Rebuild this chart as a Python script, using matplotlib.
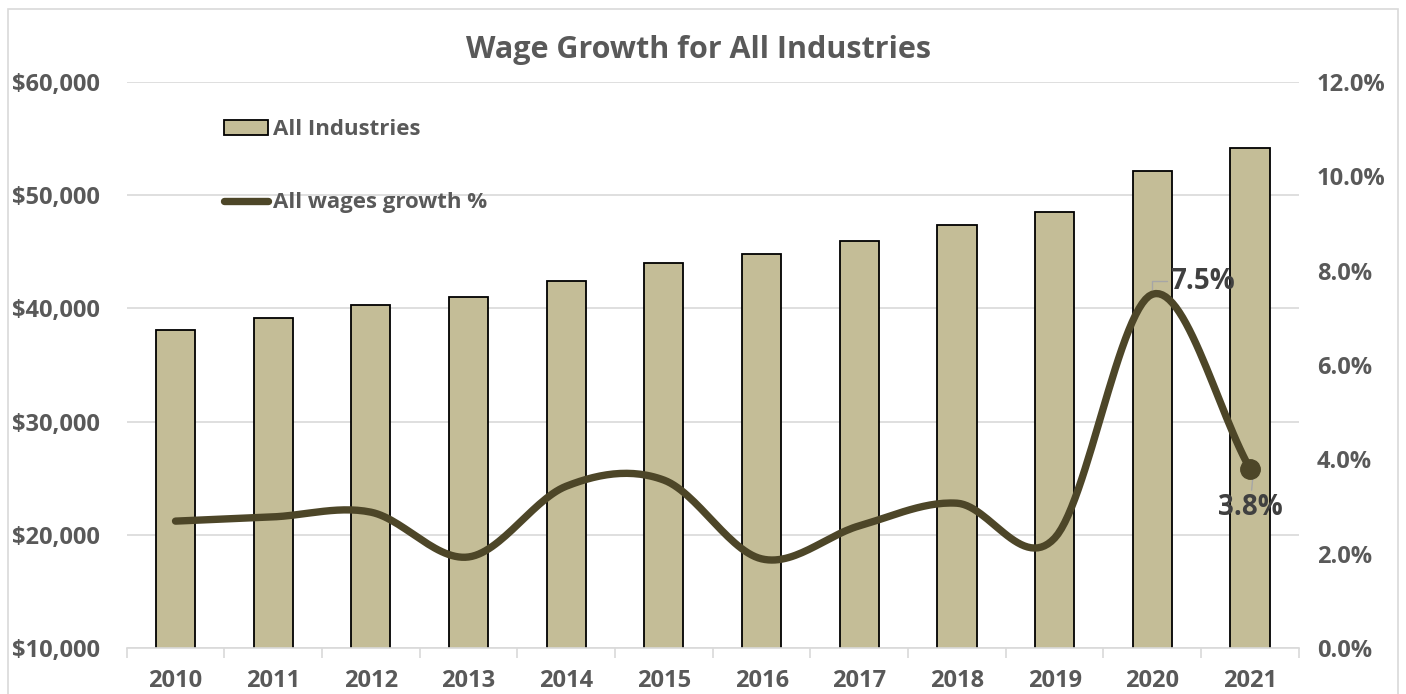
import numpy as np
import matplotlib.pyplot as plt
from matplotlib.ticker import FuncFormatter, MultipleLocator
from matplotlib.patches import Rectangle

years = ['2010', '2011', '2012', '2013', '2014', '2015', '2016', '2017',
         '2018', '2019', '2020', '2021']
avg_wage = [38100, 39150, 40300, 41000, 42400, 44000, 44800, 45950,
            47350, 48500, 52150, 54200]
growth_pct = [2.69, 2.78, 2.88, 1.93, 3.43, 3.56, 1.89, 2.59, 3.07, 2.33, 7.5, 3.8]

bar_color = '#C4BD97'
line_color = '#4D4628'
label_gray = '#595959'

plt.rcParams['font.family'] = ['Open Sans', 'DejaVu Sans']
plt.rcParams['font.weight'] = 'bold'

fig = plt.figure(figsize=(14.06, 6.94), dpi=100)
fig.patches.append(Rectangle((0.006, -0.01), 0.988, 0.997, transform=fig.transFigure,
                             fill=False, edgecolor='#D9D9D9', linewidth=1.2))

ax = fig.add_axes([0.0901, 0.0663, 0.8337, 0.8155])
x = np.arange(len(years))
ax.bar(x, avg_wage, width=0.4, color=bar_color, edgecolor='black', linewidth=1.3,
       zorder=2, label='All Industries')
ax.set_xlim(-0.5, len(years) - 0.5)
ax.set_ylim(10000, 60000)
ax.yaxis.set_major_locator(MultipleLocator(10000))
ax.yaxis.set_major_formatter(FuncFormatter(lambda v, p: f'${v:,.0f}'))
ax.grid(axis='y', color='#D9D9D9', linewidth=1.2, zorder=0)
ax.set_axisbelow(True)
for s in ['top', 'right', 'left']:
    ax.spines[s].set_visible(False)
ax.spines['bottom'].set_color('#D9D9D9')
ax.spines['bottom'].set_linewidth(1.2)
ax.set_xticks(x)
ax.set_xticklabels(years, fontweight='bold')
ax.set_xticks(np.arange(-0.5, len(years)), minor=True)
ax.tick_params(axis='x', which='major', length=0, pad=15, labelsize=17, labelcolor=label_gray)
ax.tick_params(axis='x', which='minor', length=7, color='#D9D9D9', width=1.2)
ax.tick_params(axis='y', length=0, pad=19, labelsize=17, labelcolor=label_gray)
for lab in ax.get_yticklabels():
    lab.set_fontweight('bold')

# smoothed growth line (Catmull-Rom through the yearly points)
ax2 = ax.twinx()
px = np.array(x, dtype=float)
py = np.array(growth_pct)
ext_x = np.concatenate([[2 * px[0] - px[1]], px, [2 * px[-1] - px[-2]]])
ext_y = np.concatenate([[2 * py[0] - py[1]], py, [2 * py[-1] - py[-2]]])
sx, sy = [], []
t = np.linspace(0, 1, 30)
for i in range(1, len(ext_x) - 2):
    p0, p1, p2, p3 = ext_y[i - 1:i + 3]
    q0, q1, q2, q3 = ext_x[i - 1:i + 3]
    sy.append(0.5 * (2 * p1 + (-p0 + p2) * t + (2 * p0 - 5 * p1 + 4 * p2 - p3) * t ** 2
                     + (-p0 + 3 * p1 - 3 * p2 + p3) * t ** 3))
    sx.append(0.5 * (2 * q1 + (-q0 + q2) * t + (2 * q0 - 5 * q1 + 4 * q2 - q3) * t ** 2
                     + (-q0 + 3 * q1 - 3 * q2 + q3) * t ** 3))
ax2.plot(np.concatenate(sx), np.concatenate(sy), color=line_color, linewidth=5.3,
         solid_capstyle='round', zorder=3)
ax2.plot(px[-1], py[-1], 'o', color=line_color, markersize=14, zorder=4)
ax2.set_ylim(0, 12)
ax2.yaxis.set_major_locator(MultipleLocator(2))
ax2.yaxis.set_major_formatter(FuncFormatter(lambda v, p: f'{v:.1f}%'))
ax2.tick_params(axis='y', length=0, pad=13, labelsize=17, labelcolor=label_gray)
for lab in ax2.get_yticklabels():
    lab.set_fontweight('bold')
for s in ax2.spines.values():
    s.set_visible(False)

# data labels with leader lines
ax2.annotate(f'{py[10]:.1f}%', xy=(px[10], py[10] + 0.12), xytext=(px[10] + 0.18, py[10] + 0.28),
             fontsize=20, fontweight='bold', color='#404040', ha='left', va='center',
             arrowprops=dict(arrowstyle='-', color='#A6A6A6', lw=1,
                             connectionstyle='angle,angleA=0,angleB=90,rad=0',
                             shrinkA=0, shrinkB=0))
ax2.annotate(f'{py[11]:.1f}%', xy=(px[11] + 0.03, py[11] - 0.15), xytext=(px[11], py[11] - 0.82),
             fontsize=20, fontweight='bold', color='#404040', ha='center', va='center',
             arrowprops=dict(arrowstyle='-', color='#A6A6A6', lw=1, shrinkA=11, shrinkB=0))

fig.text(0.497, 0.928, 'Wage Growth for All Industries', ha='center', va='center',
         fontsize=22, fontweight='bold', color=label_gray)

h1, l1 = ax.get_legend_handles_labels()
line_handle = plt.Line2D([0], [0], color=line_color, linewidth=5.3, solid_capstyle='round')
leg = fig.legend(h1 + [line_handle], l1 + ['All wages growth %'], loc='upper left',
                 bbox_to_anchor=(0.145, 0.857), frameon=False,
                 labelcolor=label_gray, handlelength=2.0, handletextpad=0.2,
                 labelspacing=2.35, prop={'weight': 'bold', 'size': 16})

fig.savefig('out.png', dpi=100)
